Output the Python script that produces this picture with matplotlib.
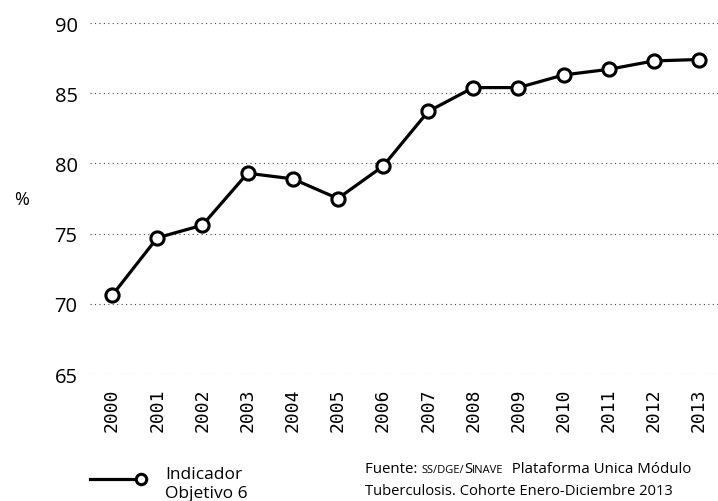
import matplotlib.pyplot as plt

# Indicador Objetivo 6 (%), 2000-2013
years = [2000, 2001, 2002, 2003, 2004, 2005, 2006,
         2007, 2008, 2009, 2010, 2011, 2012, 2013]
values = [70.6, 74.7, 75.6, 79.3, 78.9, 77.5, 79.8,
          83.7, 85.4, 85.4, 86.3, 86.7, 87.3, 87.4]
y_ticks = [65, 70, 75, 80, 85, 90]

fig = plt.figure(figsize=(7.18, 5.02), dpi=100)
ax = fig.add_axes([90 / 718, 1 - 375 / 502, 628 / 718, 351 / 502])

ax.plot(years, values, color='black', lw=2.3, marker='o', markersize=9.5,
        markerfacecolor='white', markeredgecolor='black', markeredgewidth=2.2,
        zorder=3)

ax.set_xlim(1999.51, 2013.42)
ax.set_ylim(65, 90)
ax.set_yticks(y_ticks)
ax.set_xticks(years)
ax.set_xticklabels([str(y) for y in years], rotation=90,
                   family='DejaVu Sans Mono', fontsize=13)
ax.set_yticklabels([str(v) for v in y_ticks], family='Open Sans', fontsize=14.5)
ax.tick_params(length=0)
ax.tick_params(axis='y', pad=9)
ax.tick_params(axis='x', pad=10)

for s in ax.spines.values():
    s.set_visible(False)
ax.grid(axis='y', color='#444444', lw=0.8, linestyle=(0, (1, 3)))
ax.set_axisbelow(True)

fig.text(22 / 718, 1 - 200 / 502, '%', family='Open Sans', fontsize=13,
         ha='center', va='center')

# legend drawn by hand under the axis
fig.lines.append(plt.Line2D([90 / 718, 140 / 718], [1 - 480 / 502] * 2,
                            transform=fig.transFigure, color='black', lw=2.3))
fig.lines.append(plt.Line2D([141 / 718], [1 - 480 / 502], transform=fig.transFigure,
                            marker='o', markersize=7.5, markerfacecolor='white',
                            markeredgecolor='black', markeredgewidth=2.2))
fig.text(165 / 718, 1 - 475 / 502, 'Indicador', family='Open Sans',
         fontsize=12.5, va='center', ha='left')
fig.text(165 / 718, 1 - 494 / 502, 'Objetivo 6', family='Open Sans',
         fontsize=12.5, va='center', ha='left')

# source note, with small caps pieces
pieces = [('Fuente: ', 10.8), ('SS/DGE/', 8), ('S', 10.8), ('INAVE', 8),
          ('  Plataforma Unica Módulo', 10.8)]
texts = [fig.text(0, 0, txt, family='Open Sans', fontsize=size,
                  ha='left', va='baseline') for txt, size in pieces]
fig.canvas.draw()
renderer = fig.canvas.get_renderer()
x0 = 365
for t in texts:
    t.set_position((x0 / 718, 1 - 473 / 502))
    x0 += t.get_window_extent(renderer).width
fig.text(365 / 718, 1 - 495 / 502, 'Tuberculosis. Cohorte Enero-Diciembre 2013',
         family='Open Sans', fontsize=10.6, ha='left', va='baseline')

fig.savefig('out.png', dpi=100)
